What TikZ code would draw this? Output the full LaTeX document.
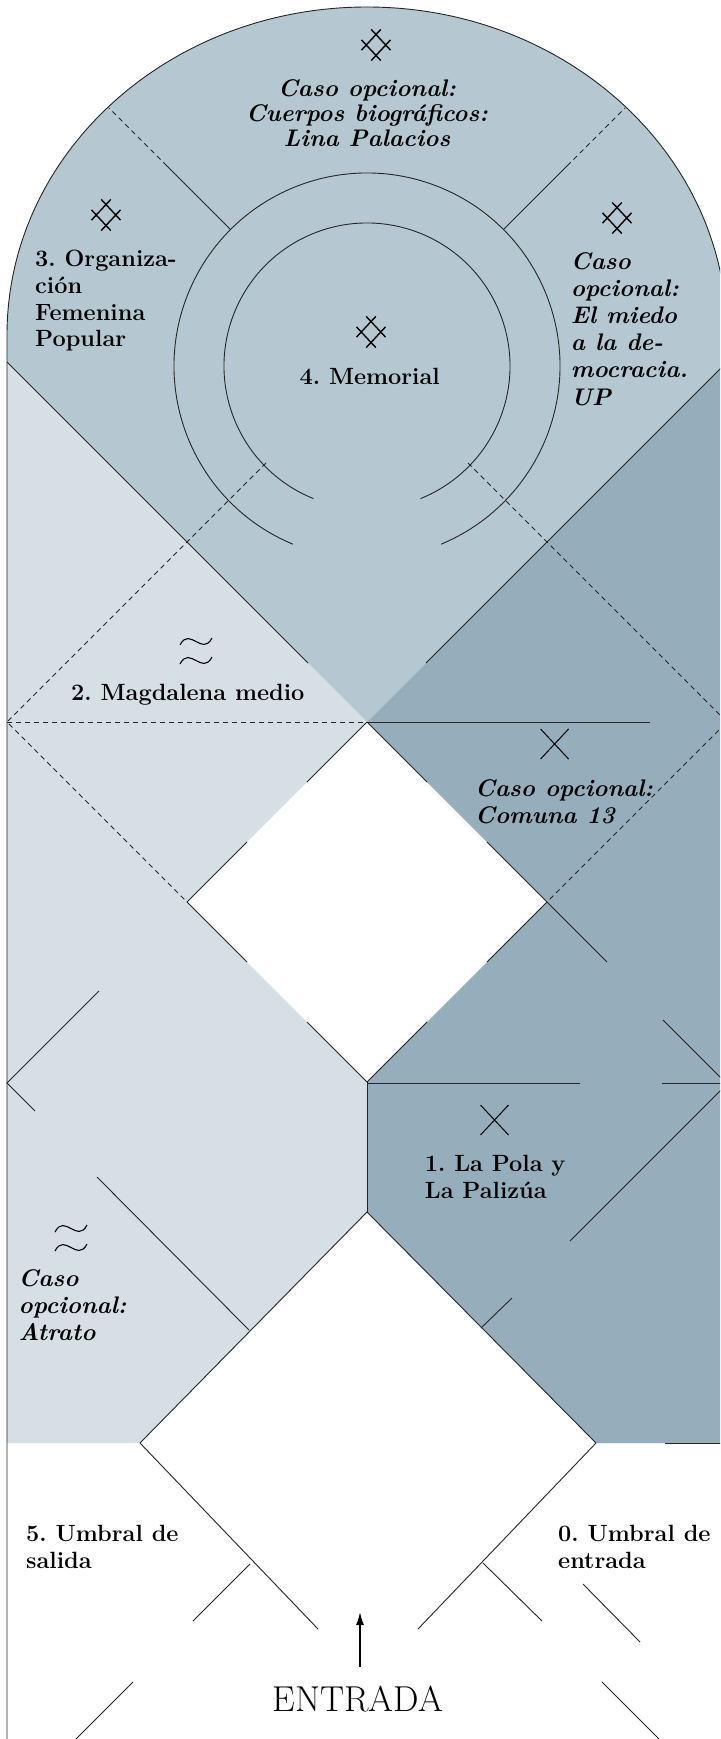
\documentclass[tikz,border=0pt]{standalone}
\usepackage{fontspec}
\usepackage{xcolor}
\usepackage{tikz}
\usetikzlibrary{positioning,calc,arrows.meta}

\definecolor{zonemid}{HTML}{B5C8D2}
\definecolor{zonelight}{HTML}{D5DFE4}
\definecolor{zonedark}{HTML}{96ADBB}

\begin{document}
\frenchspacing
\begin{tikzpicture}[
		x=1pt, y=-1pt,
		wall_line/.style={
			draw=black!85, line width=0.9pt
		},
		dash_line/.style={
			wall_line, dash pattern=on 5pt off 4pt
		},
		room_label/.style={
			font=\fontsize{23.5}{26.7}\selectfont\bfseries,
			align=left, anchor=base west, inner sep=0pt
		},
		case_label/.style={
			font=\fontsize{24}{26.7}\selectfont\bfseries\itshape,
			align=left, anchor=base west, inner sep=0pt
		},
		mark_line/.style={
			draw=black, line width=1.4pt
		},
		ptr/.style={
			-{Latex[length=13pt,width=8pt]}, black, line width=1.5pt
		},
		hash_mark/.pic={
			\draw[mark_line] (-4.8,-15.6) -- (14.5,5.1) (4.8,-15.6) -- (-14.5,5.1)
			(-4.8,15.6) -- (14.5,-5.1) (4.8,15.6) -- (-14.5,-5.1);
		},
		cross_mark/.pic={
			\draw[mark_line, line width=1pt] (-14,-15) -- (14,15) (-14,15) -- (14,-15);
		},
		wave_mark/.pic={
			\draw[mark_line, line width=1.1pt] (-16,-6) .. controls (-11,-16) and (-5,-12) .. (0,-9.5)
			.. controls (5,-7) and (11,-3) .. (16,-13);
			\draw[mark_line, line width=1.1pt] (-16,13) .. controls (-11,3) and (-5,7) .. (0,9.5)
			.. controls (5,12) and (11,16) .. (16,6);
		}
		]
		\useasboundingbox (0,0) rectangle (720,1739);
		\fill[white] (0,0) rectangle (720,1739);
		\clip (0,0) rectangle (720,1739);
		
		% === ZONAS (rellenos) ===
		\fill[zonemid] (7,362) -- (7,335) arc[x radius=360, y radius=328, start angle=180, end angle=360]
		-- (727,362) -- (367,722) -- cycle;
		\fill[zonelight] (7,362) -- (367,722) -- (187,902) -- (367,1082) -- (367,1212)
		-- (140,1443) -- (7,1443) -- cycle;
		\fill[zonedark] (727,362) -- (367,722) -- (547,902) -- (367,1082) -- (367,1212)
		-- (596,1443) -- (727,1443) -- cycle;
		
		% Contorno: arco y muro izquierdo
		\draw[wall_line] (7,1739) -- (7,335) arc[x radius=360, y radius=328, start angle=180, end angle=360]
		-- (727,1739);
		
		% === MEMORIAL (anillos) ===
		\coordinate (ring_c) at (367,366);
		\draw[wall_line] ([shift={(ring_c)}]112.6:193) arc[start angle=112.6, end angle=427.4, radius=193];
		\draw[wall_line] ([shift={(ring_c)}]112:143) arc[start angle=112, end angle=428, radius=143];
		
		% Radios superiores
		\draw[wall_line] ([shift={(ring_c)}]225:193) -- ([shift={(ring_c)}]225:283);
		\draw[dash_line] ([shift={(ring_c)}]225:283) -- (109,108);
		\draw[wall_line] ([shift={(ring_c)}]315:193) -- ([shift={(ring_c)}]315:283);
		\draw[dash_line] ([shift={(ring_c)}]315:283) -- (625,108);
		
		% Radios inferiores (punteados)
		\draw[dash_line] (266,463) -- (7,722) -- (187,902);
		\draw[dash_line] (468,463) -- (727,722) -- (547,902);
		\draw[dash_line] (7,722) -- (367,722);
		\draw[wall_line] (367,722) -- (650,722);
		
		% Brazos de la V
		\draw[wall_line] (7,362) -- (308,663);
		\draw[wall_line] (727,362) -- (426,663);
		
		% === ROMBO CENTRAL (tercios) ===
		\foreach \ax/\ay/\bx/\by in {367/722/187/902, 367/722/547/902, 187/902/367/1082, 547/902/367/1082} {
			\draw[wall_line] (\ax,\ay) -- ($(\ax,\ay)!1/3!(\bx,\by)$);
			\draw[wall_line] ($(\ax,\ay)!2/3!(\bx,\by)$) -- (\bx,\by);
		}
		\draw[wall_line] (547,902) -- (607,962);
		
		% Eje y muros a la altura 1083
		\draw[wall_line] (367,1082) -- (367,1212);
		\draw[wall_line] (367,1083) -- (580,1083);
		\draw[wall_line] (662,1083) -- (727,1083);
		\draw[wall_line] (663,1020) -- (727,1084) -- (570,1241);
		\draw[wall_line] (99,991) -- (7,1083) -- (35,1111);
		
		% === ROMBO INFERIOR ===
		\draw[wall_line] (140,1443) -- (367,1212) -- (596,1443);
		\draw[wall_line] (97,1177) -- (249,1330);
		\draw[wall_line] (481,1328) -- (512,1298);
		\draw[wall_line] (665,1443) -- (727,1443);
		\draw[wall_line] (140,1443) -- (318,1629);
		\draw[wall_line] (596,1443) -- (418,1629);
		\draw[wall_line] (250,1564) -- (193,1621);
		\draw[wall_line] (483,1563) -- (542,1621);
		\draw[wall_line] (583,1584) -- (640,1642);
		\draw[wall_line] (133,1682) -- (76,1739);
		\draw[wall_line] (602,1682) -- (659,1739);
		
		% === SIMBOLOS ===
		\foreach \px/\py in {376/45, 106/215, 617/218, 371/332} {
			\pic at (\px,\py) {hash_mark};
		}
		\foreach \px/\py in {554.6/744, 494.5/1120} {
			\pic at (\px,\py) {cross_mark};
		}
		\foreach \px/\py in {196/651, 71/1238} {
			\pic at (\px,\py) {wave_mark};
		}
		
		% === ETIQUETAS === (base = ultima linea)
		\node[case_label, font=\fontsize{24}{25}\selectfont\bfseries\itshape, align=center, anchor=base]
		(lbl_cuerpos) at (367,146.4) {Caso opcional:\\Cuerpos biográficos:\\Lina Palacios};
		\node[room_label] (lbl_org) at (35,346.8) {3. Organiza-\\ción\\Femenina\\Popular};
		\node[case_label, font=\fontsize{24}{27.2}\selectfont\bfseries\itshape]
		(lbl_miedo) at (570.7,405) {Caso\\opcional:\\El miedo\\a la de-\\mocracia.\\UP};
		\node[room_label, anchor=base] (lbl_memorial) at (369.7,384) {4. Memorial};
		\node[room_label] (lbl_magdalena) at (71,700) {2. Magdalena medio};
		\node[case_label] (lbl_comuna) at (475,823.3) {Caso opcional:\\Comuna 13};
		\node[room_label] (lbl_pola) at (424.7,1198.5) {1. La Pola y\\La Palizúa};
		\node[case_label] (lbl_atrato) at (18.4,1340) {Caso\\opcional:\\Atrato};
		\node[room_label] (lbl_salida) at (26,1568) {5. Umbral de\\salida};
		\node[room_label] (lbl_umbral) at (558,1568) {0. Umbral de\\entrada};
		
		% Entrada
		\node[font=\fontsize{36}{40}\selectfont, anchor=base, inner sep=0pt] (entrada) at (358,1711.5) {ENTRADA};
		\coordinate (arrow_tail) at (360,1667);
		\coordinate (arrow_tip) at (360,1612);
		\draw[ptr] (arrow_tail) -- (arrow_tip);
		
	\end{tikzpicture}
\end{document}
